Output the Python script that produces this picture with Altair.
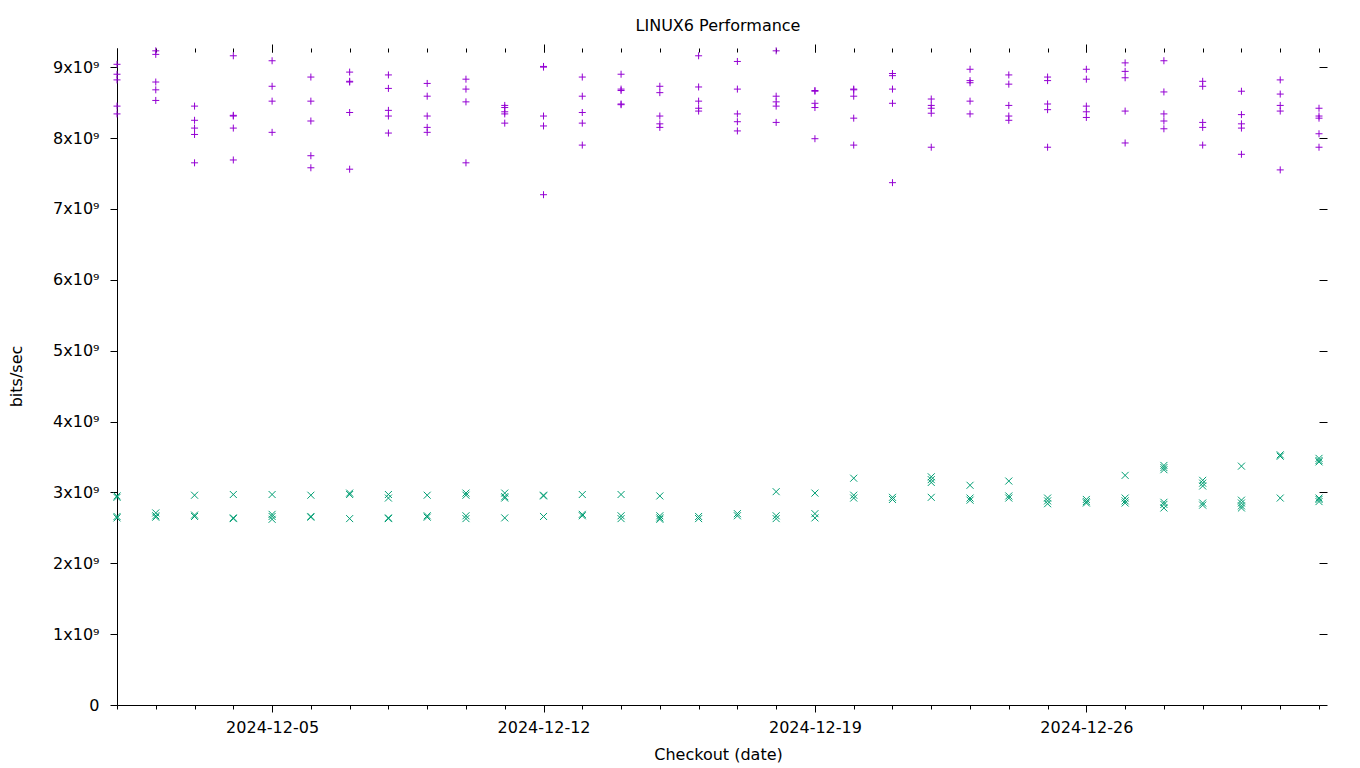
import altair as alt
import pandas as pd

# ---------------- data (values in units of 1e9 bits/sec) ----------------
dates = [
    "2024-12-01", "2024-12-02", "2024-12-03", "2024-12-04", "2024-12-05", "2024-12-06",
    "2024-12-07", "2024-12-08", "2024-12-09", "2024-12-10", "2024-12-11", "2024-12-12",
    "2024-12-13", "2024-12-14", "2024-12-15", "2024-12-16", "2024-12-17", "2024-12-18",
    "2024-12-19", "2024-12-20", "2024-12-21", "2024-12-22", "2024-12-23", "2024-12-24",
    "2024-12-25", "2024-12-26", "2024-12-27", "2024-12-28", "2024-12-29", "2024-12-30",
    "2024-12-31", "2025-01-01",
]

plus_series = [
    [9.04, 8.90, 8.82, 8.45, 8.34],
    [9.23, 9.18, 8.79, 8.68, 8.53],
    [8.45, 8.25, 8.14, 8.05, 7.65],
    [9.16, 8.32, 8.31, 8.14, 7.69],
    [9.09, 8.73, 8.52, 8.08],
    [8.86, 8.52, 8.24, 7.75, 7.58],
    [8.93, 8.80, 8.79, 8.36, 7.56],
    [8.89, 8.70, 8.39, 8.31, 8.07],
    [8.77, 8.59, 8.31, 8.15, 8.08],
    [8.83, 8.69, 8.51, 7.65],
    [8.46, 8.43, 8.37, 8.34, 8.21],
    [9.01, 9.00, 8.31, 8.17, 7.20],
    [8.86, 8.59, 8.36, 8.21, 7.90],
    [8.90, 8.69, 8.67, 8.48, 8.47],
    [8.73, 8.64, 8.31, 8.20, 8.15],
    [9.16, 8.72, 8.52, 8.42, 8.38],
    [9.08, 8.69, 8.34, 8.23, 8.10],
    [9.23, 8.59, 8.51, 8.45, 8.22],
    [8.67, 8.66, 8.49, 8.43, 7.99],
    [8.69, 8.68, 8.59, 8.28, 7.90],
    [8.91, 8.88, 8.69, 8.49, 7.37],
    [8.55, 8.46, 8.42, 8.35, 7.87],
    [8.97, 8.81, 8.78, 8.52, 8.34],
    [8.89, 8.76, 8.46, 8.31, 8.25],
    [8.86, 8.81, 8.48, 8.40, 7.87],
    [8.97, 8.83, 8.45, 8.37, 8.29],
    [9.06, 8.94, 8.85, 8.38, 7.93],
    [9.09, 8.65, 8.34, 8.24, 8.13],
    [8.80, 8.73, 8.22, 8.15, 7.90],
    [8.66, 8.33, 8.20, 8.14, 7.77],
    [8.82, 8.62, 8.46, 8.38, 7.55],
    [8.42, 8.31, 8.28, 8.06, 7.87],
]

cross_series = [
    [2.95, 2.93, 2.66, 2.64],
    [2.71, 2.67, 2.65],
    [2.96, 2.68, 2.66],
    [2.97, 2.64, 2.63],
    [2.97, 2.69, 2.66, 2.62],
    [2.96, 2.66, 2.65],
    [2.99, 2.97, 2.63],
    [2.97, 2.92, 2.64, 2.63],
    [2.96, 2.67, 2.65],
    [2.99, 2.96, 2.67, 2.63],
    [2.99, 2.94, 2.92, 2.64],
    [2.96, 2.95, 2.66],
    [2.97, 2.69, 2.67],
    [2.97, 2.67, 2.63],
    [2.95, 2.67, 2.64, 2.62],
    [2.66, 2.63],
    [2.70, 2.67],
    [3.01, 2.67, 2.63],
    [2.99, 2.70, 2.64],
    [3.20, 2.96, 2.92],
    [2.93, 2.90],
    [3.22, 3.18, 3.14, 2.93],
    [3.10, 2.92, 2.89],
    [3.16, 2.95, 2.92],
    [2.92, 2.88, 2.84],
    [2.90, 2.87, 2.85],
    [3.24, 2.92, 2.88, 2.85],
    [3.38, 3.35, 3.32, 2.86, 2.83, 2.78],
    [3.17, 3.13, 3.09, 2.85, 2.82],
    [3.37, 2.89, 2.85, 2.81, 2.78],
    [3.53, 3.51, 2.92],
    [3.48, 3.45, 3.43, 2.92, 2.90, 2.87],
]

major_dates = ["2024-12-05", "2024-12-12", "2024-12-19", "2024-12-26"]
y_ticks_g = [0, 1, 2, 3, 4, 5, 6, 7, 8, 9]

# ---------------- table ----------------
rows = []
for d, vals in zip(dates, plus_series):
    for v in vals:
        rows.append({"date": d, "bps": v * 1e9, "series": "plus"})
for d, vals in zip(dates, cross_series):
    for v in vals:
        rows.append({"date": d, "bps": v * 1e9, "series": "cross"})
df = pd.DataFrame(rows)
plus_df = df[df.series == "plus"]
cross_df = df[df.series == "cross"]


def dt(s):
    y, m, d = (int(p) for p in s.split("-"))
    return alt.DateTime(year=y, month=m, date=d, utc=True)


day_values = [dt(s) for s in dates]
major_values = [dt(s) for s in major_dates]
y_values = [v * 1e9 for v in y_ticks_g]

FONT = "DejaVu Sans"
PURPLE = "#9400D3"
GREEN = "#009E73"
PLUS = "M-1,0L1,0M0,-1L0,1"
CROSS = "M-1,-1L1,1M-1,1L1,-1"

x_scale = alt.Scale(type="utc", domain=[dt("2024-12-01"), dt("2025-01-01")])
y_scale = alt.Scale(domain=[0, 9.27e9], nice=False, zero=True)

# bottom: minor ticks + border + title
ax_bottom_minor = alt.Axis(
    orient="bottom", values=day_values, tickSize=4, labels=False, domain=True,
    domainColor="black", tickColor="black", grid=False, title="Checkout (date)",
    titleFont=FONT, titleFontSize=16, titleFontWeight="normal", titleColor="black",
    titleX=601, titleY=49, titleBaseline="middle", titleAlign="center",
)
ax_bottom_major = alt.Axis(
    orient="bottom", values=major_values, tickSize=7, domain=False, grid=False,
    tickColor="black", labelExpr="utcFormat(datum.value, '%Y-%m-%d')",
    labelFont=FONT, labelFontSize=16, labelColor="black", labelPadding=7,
    labelFlush=False, labelOverlap=False, title=None,
)
ax_top_minor = alt.Axis(
    orient="top", values=day_values, tickSize=4, labels=False, domain=False,
    grid=False, tickColor="black", title=None, offset=-4,
)
ax_top_major = alt.Axis(
    orient="top", values=major_values, tickSize=8, labels=False, domain=False,
    grid=False, tickColor="black", title=None, offset=-4,
)
ax_left = alt.Axis(
    orient="left", values=y_values, tickSize=7, domain=True, domainColor="black",
    tickColor="black", grid=False,
    labelExpr="datum.value == 0 ? '0' : format(datum.value / 1e9, 'd') + 'x10⁹'",
    labelFont=FONT, labelFontSize=16, labelColor="black", labelPadding=11,
    labelFlush=False, labelOverlap=False,
    title="bits/sec", titleFont=FONT, titleFontSize=16, titleFontWeight="normal",
    titleColor="black", titleX=-96, titleY=328, titleAngle=270,
    titleBaseline="alphabetic", titleAlign="center",
)
ax_right = alt.Axis(
    orient="right", values=y_values, tickSize=8, labels=False, domain=False,
    grid=False, tickColor="black", title=None,
)

plus_layer = alt.Chart(plus_df).mark_point(
    shape=PLUS, size=49, filled=False, strokeWidth=1, color=PURPLE, opacity=1
).encode(
    x=alt.X("date:T", scale=x_scale, axis=ax_bottom_minor),
    y=alt.Y("bps:Q", scale=y_scale, axis=ax_left),
)

cross_layer = alt.Chart(cross_df).mark_point(
    shape=CROSS, size=49, filled=False, strokeWidth=1, color=GREEN, opacity=1
).encode(
    x=alt.X("date:T", scale=x_scale, axis=ax_bottom_major),
    y=alt.Y("bps:Q", scale=y_scale, axis=ax_right),
)

top_minor_layer = alt.Chart(cross_df).mark_point(opacity=0).encode(
    x=alt.X("date:T", scale=x_scale, axis=ax_top_minor),
    y=alt.Y("bps:Q", scale=y_scale, axis=None),
)
top_major_layer = alt.Chart(cross_df).mark_point(opacity=0).encode(
    x=alt.X("date:T", scale=x_scale, axis=ax_top_major),
    y=alt.Y("bps:Q", scale=y_scale, axis=None),
)

chart = (
    alt.layer(top_minor_layer, top_major_layer, cross_layer, plus_layer)
    .resolve_axis(x="independent", y="independent")
    .resolve_scale(x="shared", y="shared")
    .properties(
        width=1202,
        height=657,
        title=alt.Title(
            "LINUX6 Performance", font=FONT, fontSize=16, fontWeight="normal",
            color="black", anchor="middle", offset=10,
        ),
        autosize=alt.AutoSizeParams(type="none"),
        padding={"left": 109, "top": 40, "right": 33, "bottom": 62},
        background="white",
    )
    .configure_view(stroke=None)
)

chart.save("out.html", embed_options={"renderer": "svg", "actions": False})
